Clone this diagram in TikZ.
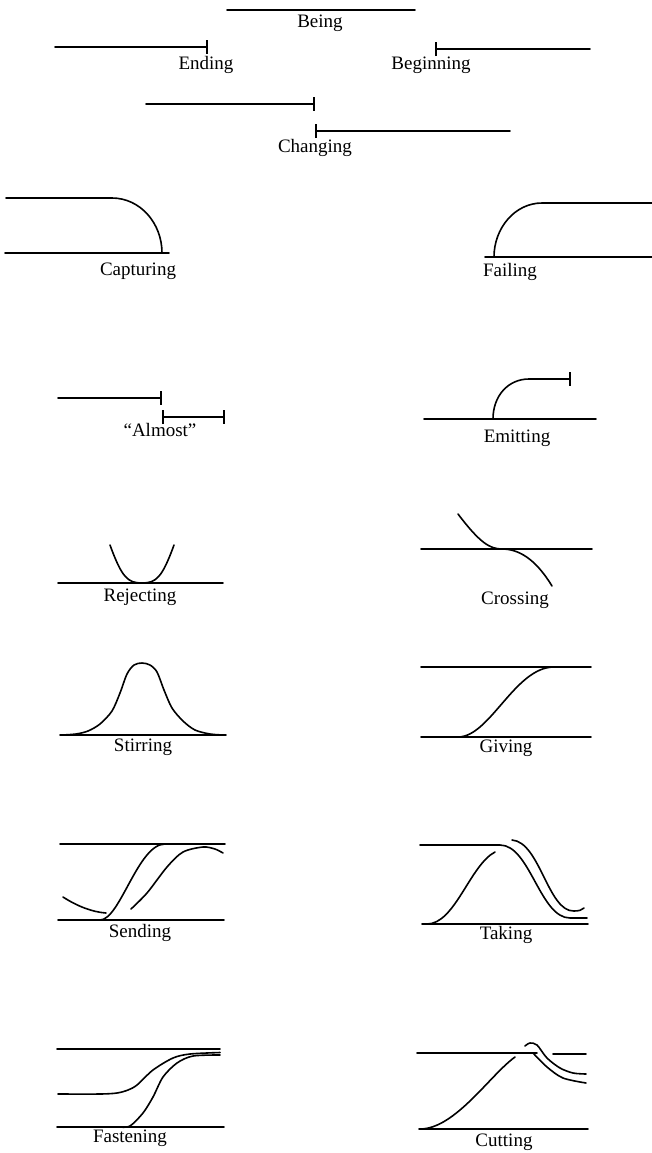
\documentclass[tikz,border=0pt]{standalone}
\usepackage{fontspec}
\setmainfont{Liberation Serif}
\usetikzlibrary{arrows.meta}

\tikzset{
  lbl/.style={font=\fontsize{9.5}{11}\selectfont,inner sep=0pt},
  bartip/.style={-{Bar[width=7pt,line width=.8pt]}},
  bartips/.style={{Bar[width=7pt,line width=.8pt]}-{Bar[width=7pt,line width=.8pt]}}
}

\begin{document}
\begin{tikzpicture}[x=.5pt,y=-.5pt,line cap=round,line join=round,line width=.8pt]
    \useasboundingbox (0,0) rectangle (652,1153);
    % being, ending, beginning, changing
    \draw (227,10) -- (415,10);
    \node[lbl] (being) at (320,23) {Being};
    \draw[bartip] (55,47) -- (208,47);
    \node[lbl] (ending) at (206,65) {Ending};
    \draw[bartip] (590,49) -- (435,49);
    \node[lbl] (beginning) at (431,65) {Beginning};
    \draw[bartip] (146,104) -- (315,104);
    \draw[bartip] (510,131) -- (315,131);
    \node[lbl] (changing) at (315,148) {Changing};
    % capturing, failing
    \draw (6,198) -- (112,198) .. controls (140,198) and (162,223) .. (162,253);
    \draw (5,253) -- (169,253);
    \node[lbl] (capturing) at (138,271) {Capturing};
    \draw (485,257) -- (652,257);
    \draw (494,257) .. controls (494,228) and (515,203) .. (542,203) -- (652,203);
    \node[lbl] (failing) at (510,272) {Failing};
    % almost, emitting
    \draw[bartip] (58,398) -- (162,398);
    \draw[bartips] (162,417) -- (225,417);
    \node[lbl] (almost) at (160,430) {“Almost”};
    \draw (424,419) -- (596,419);
    \draw[bartip] (493,419) .. controls (493,396) and (508,379) .. (529,379) -- (571,379);
    \node[lbl] (emitting) at (517,438) {Emitting};
    % rejecting, crossing
    \draw (58,583) -- (223,583);
    \draw (110,545) .. controls (122,578) and (128,583) .. (142,583)
      .. controls (156,583) and (162,578) .. (174,545);
    \node[lbl] (rejecting) at (140,597) {Rejecting};
    \draw (421,549) -- (592,549);
    \draw (458,514) .. controls (480,543) and (490,549) .. (502,549)
      .. controls (518,549) and (535,558) .. (552,586);
    \node[lbl] (crossing) at (515,600) {Crossing};
    % stirring, giving
    \draw (60,735) -- (226,735);
    \draw plot[smooth] coordinates {
        (62,735) (76,734) (88,731) (100,724) (112,711) (120,693)
        (127,674) (134,665) (142,663) (150,665) (157,672) (164,690)
        (172,708) (183,721) (195,730) (210,734) (224,735)};
    \node[lbl] (stirring) at (143,747) {Stirring};
    \draw (421,667) -- (591,667);
    \draw (421,737) -- (591,737);
    \draw (458,737) .. controls (490,737) and (515,667) .. (554,667);
    \node[lbl] (giving) at (506,748) {Giving};
    % sending, taking
    \draw (60,844) -- (225,844);
    \draw (58,920) -- (224,920);
    \draw (63,897) .. controls (77,906) and (92,912) .. (106,913);
    \draw (100,920) .. controls (120,920) and (138,844) .. (165,844);
    \draw plot[smooth] coordinates {
        (131,909) (147,893) (167,867) (183,852) (203,847) (215,849) (223,853)};
    \node[lbl] (sending) at (140,933) {Sending};
    \draw (420,845) -- (500,845) .. controls (530,845) and (540,918) .. (570,918) -- (587,918);
    \draw (422,924) -- (588,924);
    \draw (427,924) .. controls (455,924) and (470,865) .. (495,852);
    \draw (512,840) .. controls (540,842) and (548,912) .. (574,911)
      .. controls (579,911) and (582,910) .. (584,908);
    \node[lbl] (taking) at (506,935) {Taking};
    % fastening, cutting
    \draw (57,1049) -- (220,1049);
    \draw plot[smooth] coordinates {
        (58,1094) (100,1094) (117,1093) (128,1090) (137,1085) (153,1070)
        (173,1058) (190,1054) (220,1052.5)};
    \draw (57,1127) -- (224,1127);
    \draw plot[smooth] coordinates {
        (120,1127) (130,1126) (143,1113) (153,1097) (163,1077) (177,1063)
        (193,1056) (220,1055)};
    \node[lbl] (fastening) at (130,1138) {Fastening};
    \draw (417,1053) -- (537,1053);
    \draw (553,1054) -- (586,1054);
    \draw (419,1129) -- (588,1129);
    \draw (420,1129) .. controls (455,1129) and (490,1075) .. (515,1057);
    \draw plot[smooth] coordinates {
        (525,1046) (530,1043) (537,1045) (547,1058) (560,1068) (573,1073)
        (586,1074)};
    \draw plot[smooth] coordinates {
        (533,1053) (547,1067) (563,1078) (586,1083)};
    \node[lbl] (cutting) at (504,1142) {Cutting};
\end{tikzpicture}
\end{document}
